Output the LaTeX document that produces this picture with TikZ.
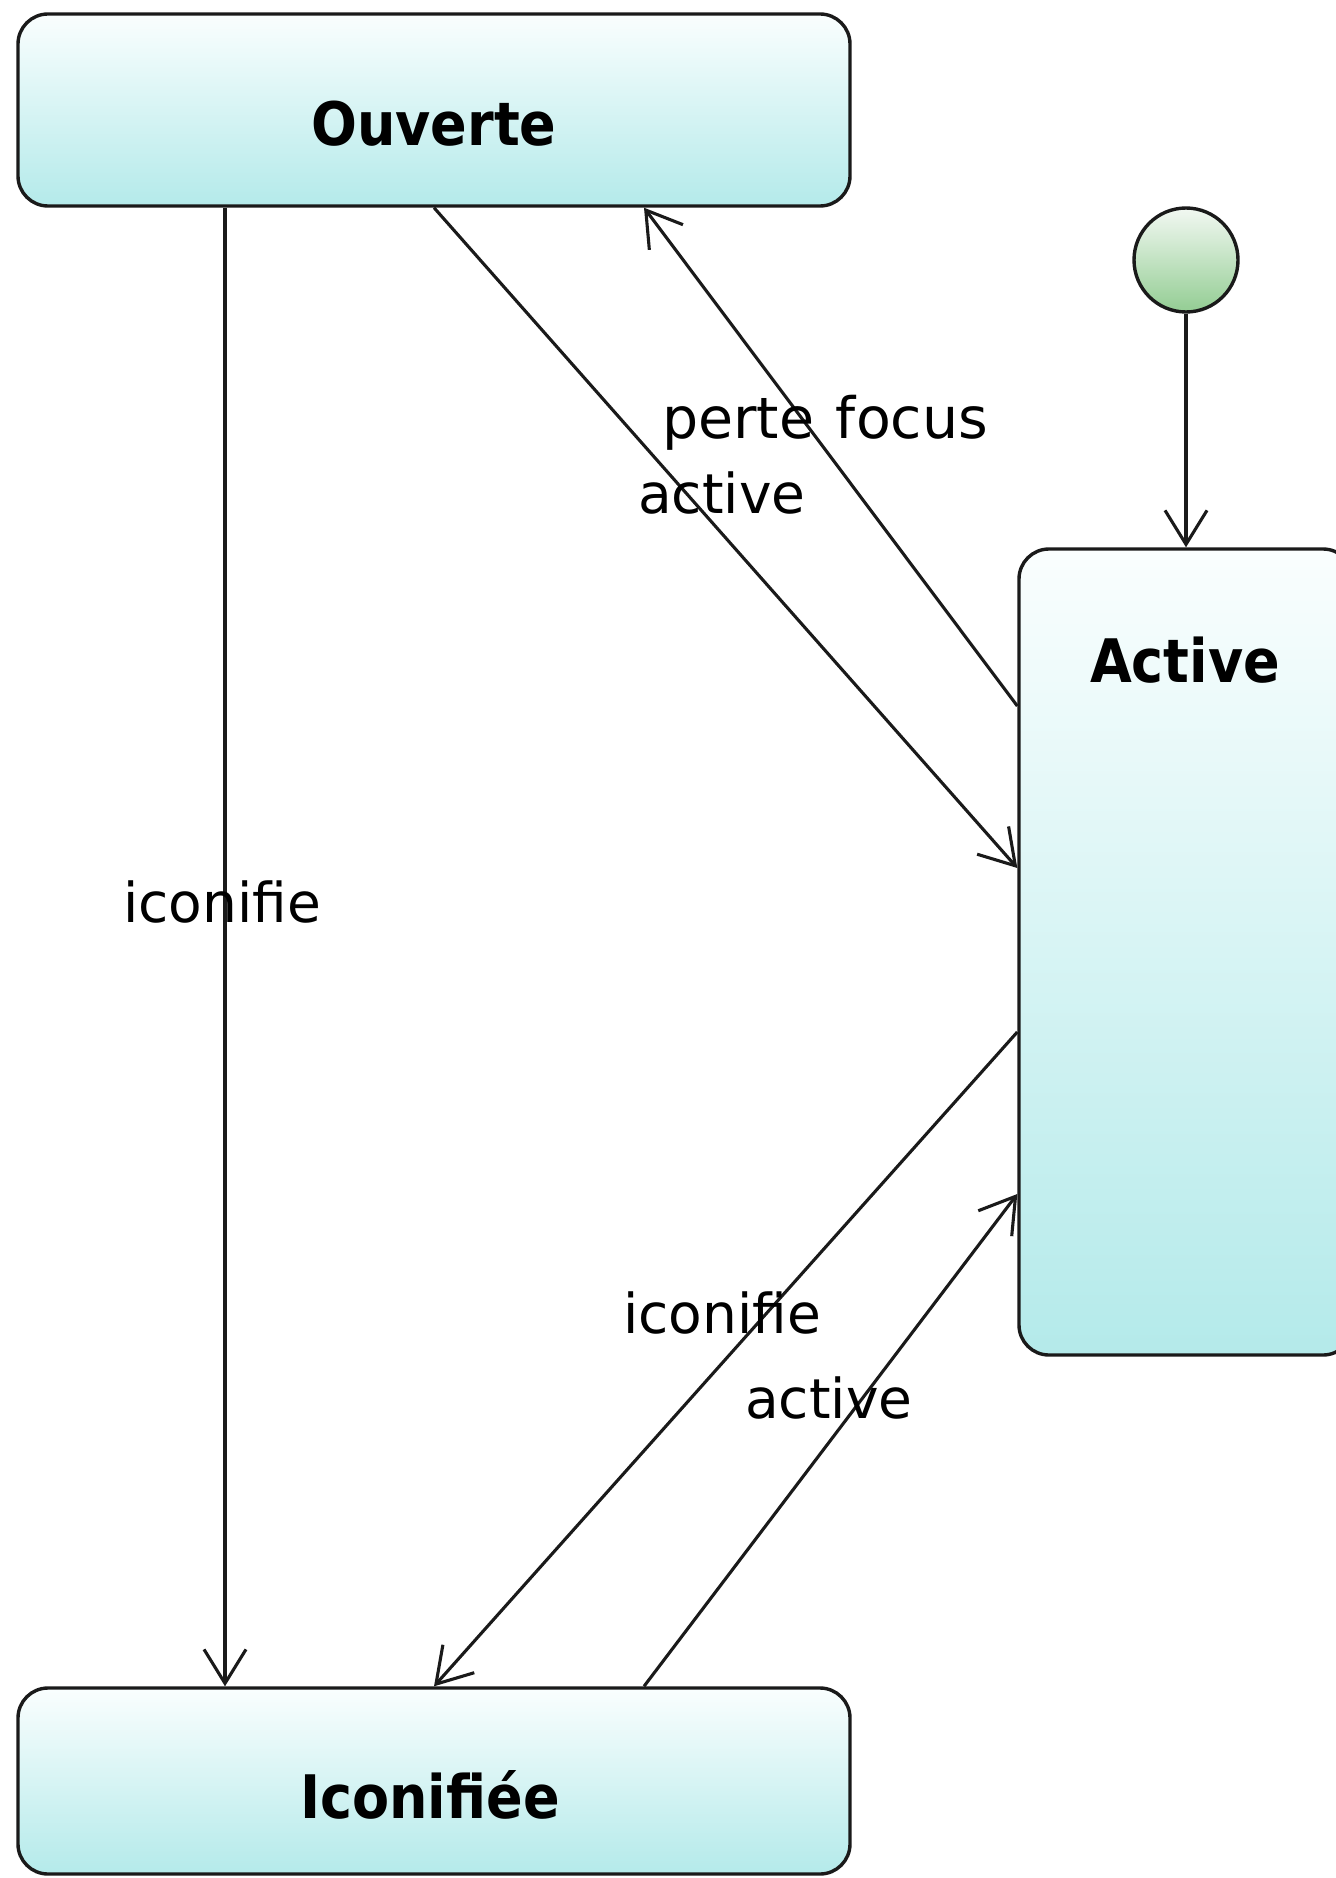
\documentclass[tikz,border=0pt]{standalone}
\usepackage{fontspec}
\setmainfont{DejaVu Sans}
\newfontfamily\titlefont{DejaVu Sans}[FakeStretch=0.9]
\usetikzlibrary{arrows.meta,shapes.geometric}

\definecolor{boxtop}{HTML}{FAFEFE}
\definecolor{boxbot}{HTML}{B4EAEA}
\definecolor{initop}{HTML}{F2F8F2}
\definecolor{inibot}{HTML}{93CD93}
\definecolor{edge}{HTML}{1A1A1A}

\tikzset{
  statebox/.style={draw=edge, line width=3.4pt, rounded corners=30pt,
    top color=boxtop, bottom color=boxbot, inner sep=0pt},
  initial/.style={draw=edge, line width=3.4pt, circle, minimum size=104pt,
    inner sep=0pt, top color=initop, bottom color=inibot},
  title/.style={font=\titlefont\bfseries\fontsize{60}{66}\selectfont,
    anchor=base, inner sep=0pt},
  trig/.style={font=\fontsize{55}{60}\selectfont, anchor=base west,
    inner sep=0pt},
  trans/.style={draw=edge, line width=3.1pt,
    -{Straight Barb[length=34pt,width=42pt,line width=3.1pt]}},
}

\begin{document}
\begin{tikzpicture}[x=1pt, y=-1pt]
  \useasboundingbox (0,0) rectangle (1335,1878);

  % states
  \node[statebox, minimum width=832pt, minimum height=192pt] (ouv) at (434,110) {};
  \node[statebox, minimum width=832pt, minimum height=186pt] (ico) at (434,1781) {};
  \node[statebox, minimum width=334pt, minimum height=806pt] (act) at (1186,952) {};
  \node[initial] (ini) at (1186,260) {};

  % state names
  \node[title] (ouvT) at (434,146) {Ouverte};
  \node[title] (icoT) at (430,1818) {Iconifiée};
  \node[title] (actT) at (1185,682) {Active};

  % transitions
  \draw[trans] (ini.south) -- (act.north);
  \draw[trans] ([xshift=-209pt]ouv.south) -- ([xshift=-209pt]ico.north);
  \draw[trans] (ouv.south) -- ([yshift=84pt]act.west);
  \draw[trans] ([yshift=246pt]act.west) -- ([xshift=210pt]ouv.south);
  \draw[trans] ([yshift=-80pt]act.west) -- (ico.north);
  \draw[trans] ([xshift=210pt]ico.north) -- ([yshift=-242pt]act.west);

  % triggers
  \node[trig, font=\fontsize{57}{62}\selectfont] (lPerte) at (662,438) {perte\hspace{0.38em}focus};
  \node[trig] (lAct1) at (638,513) {active};
  \node[trig] (lIco1) at (123,922) {iconifie};
  \node[trig] (lIco2) at (623,1333) {iconifie};
  \node[trig] (lAct2) at (745,1418) {active};
\end{tikzpicture}
\end{document}
